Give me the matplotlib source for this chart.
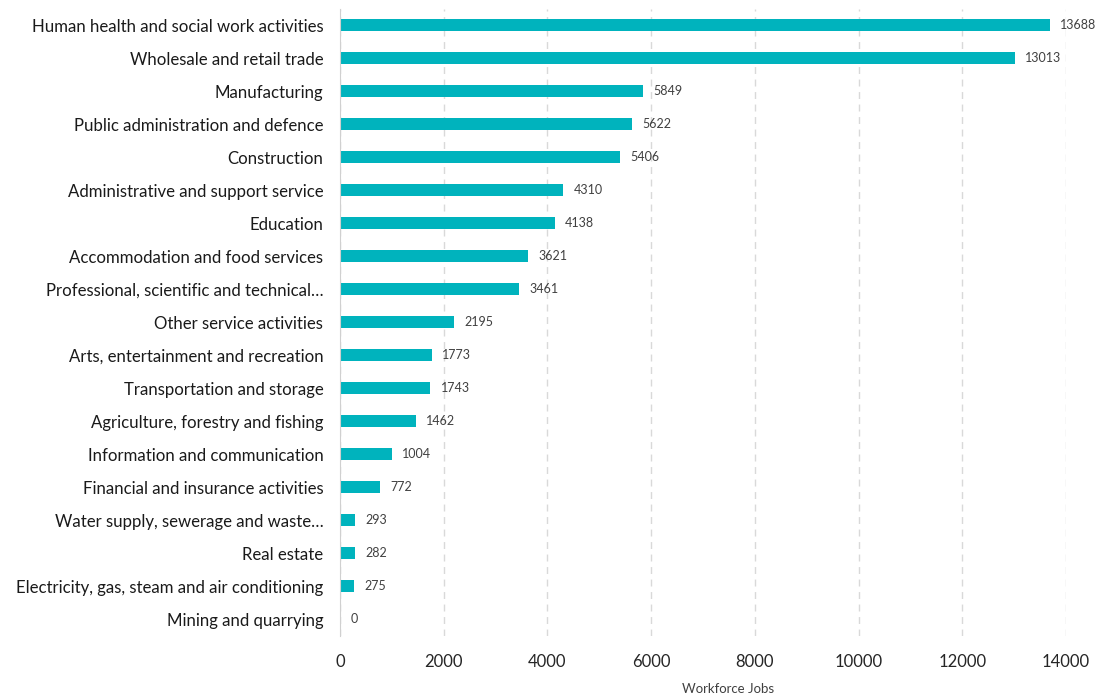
import matplotlib.pyplot as plt

# Workforce jobs by industry
industries = [
    "Human health and social work activities",
    "Wholesale and retail trade",
    "Manufacturing",
    "Public administration and defence",
    "Construction",
    "Administrative and support service",
    "Education",
    "Accommodation and food services",
    "Professional, scientific and technical\u2026",
    "Other service activities",
    "Arts, entertainment and recreation",
    "Transportation and storage",
    "Agriculture, forestry and fishing",
    "Information and communication",
    "Financial and insurance activities",
    "Water supply, sewerage and waste\u2026",
    "Real estate",
    "Electricity, gas, steam and air conditioning",
    "Mining and quarrying",
]
jobs = [13688, 13013, 5849, 5622, 5406, 4310, 4138, 3621, 3461, 2195,
        1773, 1743, 1462, 1004, 772, 293, 282, 275, 0]
ticks = [0, 2000, 4000, 6000, 8000, 10000, 12000, 14000]

plt.rcParams['font.family'] = ['Lato', 'DejaVu Sans']

fig = plt.figure(figsize=(11.06, 6.97), dpi=100)
ax = fig.add_axes([0.3074, 0.0882, 0.6564, 0.8996])

ypos = list(range(len(industries)))
ax.barh(ypos, jobs, height=0.38, color="#00B3BD", zorder=3)

for y, v in zip(ypos, jobs):
    ax.text(v + 200, y, str(v), va="center", ha="left", fontsize=9, color="#404040")

ax.set_yticks(ypos)
ax.set_yticklabels(industries, fontsize=12.1, color="#1a1a1a")
ax.set_ylim(len(industries) - 0.5, -0.5)
ax.set_xlim(0, 14000)
ax.set_xticks(ticks)
ax.set_xticklabels([str(t) for t in ticks], fontsize=12, color="#262626")
ax.tick_params(axis="both", length=0)
ax.tick_params(axis="x", pad=13)
ax.tick_params(axis="y", pad=12)

ax.xaxis.grid(True, linestyle=(0, (5, 4)), color="#d9d9d9", linewidth=1, zorder=0)
for s in ["top", "right", "bottom"]:
    ax.spines[s].set_visible(False)
ax.spines["left"].set_color("#d0d0d0")
ax.spines["left"].set_zorder(4)

ax.set_xlabel("Workforce Jobs", fontsize=9.5, color="#404040", labelpad=8)
ax.xaxis.set_label_coords(0.534, -0.075)

plt.savefig("out.png", dpi=100)
